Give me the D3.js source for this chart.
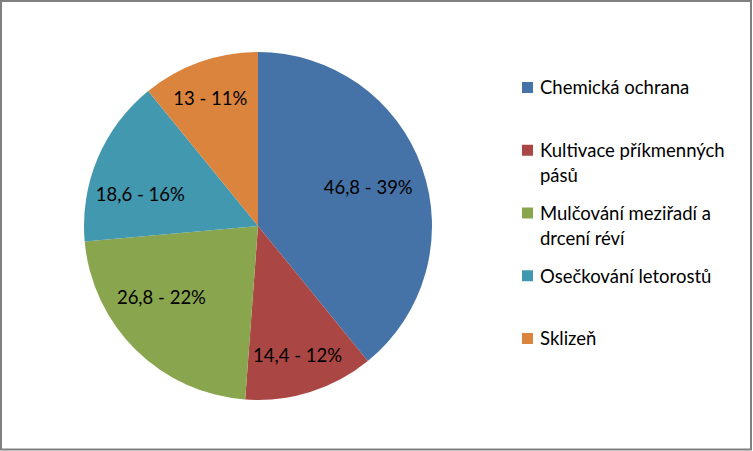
<!DOCTYPE html>
<html>
<head>
<meta charset="utf-8">
<script src="https://cdn.jsdelivr.net/npm/d3@7"></script>
<style>
  body { margin: 0; background: #fff; }
  svg { display: block; }
  text { font-family: Lato, "Open Sans", sans-serif; fill: #000; }
</style>
</head>
<body>
<div id="chart"></div>
<script>
// data
const categories = [
  "Chemická ochrana",
  "Kultivace příkmenných pásů",
  "Mulčování meziřadí a drcení réví",
  "Osečkování letorostů",
  "Sklizeň"
];
const values = [46.8, 14.4, 26.8, 18.6, 13];
const valueLabels = ["46,8", "14,4", "26,8", "18,6", "13"];
// legend lines as wrapped in the original
const legendLines = [
  ["Chemická ochrana"],
  ["Kultivace příkmenných", "pásů"],
  ["Mulčování meziřadí a", "drcení réví"],
  ["Osečkování letorostů"],
  ["Sklizeň"]
];
const colors = ["#4572A7", "#AA4643", "#89A54E", "#4198AF", "#DB843D"];

const width = 753, height = 451;
const cx = 258, cy = 226, radius = 174;
const fontSize = 18.5;

// "best fit" label placement, per slice: radius fraction and angle shift (deg)
const labelFit = [
  { r: 0.67, da: 0.5 },
  { r: 0.78, da: 0.5 },
  { r: 0.69, da: 9 },
  { r: 0.70, da: -8 },
  { r: 0.78, da: -1 }
];

const svg = d3.select("#chart").append("svg")
  .attr("width", width)
  .attr("height", height);

svg.append("rect")
  .attr("x", 1).attr("y", 1)
  .attr("width", width - 3).attr("height", height - 2.5)
  .attr("fill", "#fff")
  .attr("stroke", "#808080")
  .attr("stroke-width", 2);

const total = d3.sum(values);
const data = categories.map((c, i) => ({ cat: c, value: values[i], i }));

const pie = d3.pie().value(d => d.value).sort(null);
const arc = d3.arc().innerRadius(0).outerRadius(radius);

const g = svg.append("g").attr("transform", `translate(${cx},${cy})`);
const arcs = pie(data);

g.selectAll("path")
  .data(arcs)
  .join("path")
  .attr("d", arc)
  .attr("fill", d => colors[d.data.i]);

const labelPos = d => {
  const fit = labelFit[d.data.i];
  const a = (d.startAngle + d.endAngle) / 2 + fit.da * Math.PI / 180;
  const r = radius * fit.r;
  return [Math.sin(a) * r, -Math.cos(a) * r];
};

g.selectAll("text.lbl")
  .data(arcs)
  .join("text")
  .attr("class", "lbl")
  .attr("transform", d => `translate(${labelPos(d)})`)
  .attr("text-anchor", "middle")
  .attr("dy", "0.35em")
  .style("font-size", fontSize + "px")
  .text(d => `${valueLabels[d.data.i]} - ${Math.round(d.data.value / total * 100)}%`);

// legend
const legendY = d3.scalePoint().domain(d3.range(categories.length)).range([88, 339]);
const legend = svg.append("g");
const item = legend.selectAll("g")
  .data(legendLines)
  .join("g")
  .attr("transform", (d, i) => `translate(522,${legendY(i)})`);

item.append("rect")
  .attr("x", 0).attr("y", -6)
  .attr("width", 11).attr("height", 11)
  .attr("fill", (d, i) => colors[i]);

item.append("text")
  .attr("x", 18)
  .style("font-size", fontSize + "px")
  .selectAll("tspan")
  .data(d => d)
  .join("tspan")
  .attr("x", 18)
  .attr("y", (d, j) => j * 25)
  .attr("dy", "0.35em")
  .text(d => d);
</script>
</body>
</html>
